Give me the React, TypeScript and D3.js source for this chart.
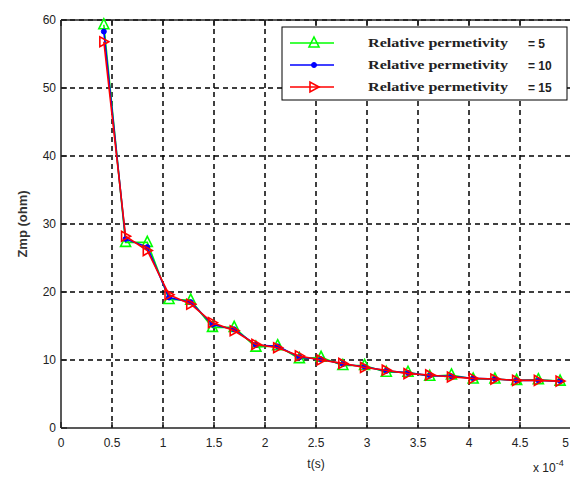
import React from "react";
import * as d3 from "d3";

const tValues = [0.42, 0.633, 0.846, 1.059, 1.272, 1.485, 1.698, 1.911, 2.124, 2.337, 2.55, 2.763, 2.976, 3.189, 3.402, 3.615, 3.828, 4.041, 4.254, 4.467, 4.68, 4.893];
const zmp5 = [59.3, 27.3, 27.3, 18.9, 18.8, 14.8, 14.8, 11.9, 12.1, 10.2, 10.4, 9.2, 9.2, 8.2, 8.2, 7.6, 7.8, 7.2, 7.2, 7.0, 7.1, 6.9];
const zmp10 = [58.3, 27.8, 26.6, 19.2, 18.5, 15.2, 14.5, 12.2, 12.0, 10.4, 10.1, 9.4, 9.0, 8.4, 8.1, 7.7, 7.6, 7.3, 7.2, 7.0, 7.0, 6.9];
const zmp15 = [56.8, 28.2, 26.1, 19.6, 18.2, 15.5, 14.3, 12.3, 11.8, 10.6, 10.0, 9.5, 8.9, 8.5, 8.0, 7.8, 7.5, 7.3, 7.2, 7.0, 7.0, 6.9];
const xTicks = [0, 0.5, 1, 1.5, 2, 2.5, 3, 3.5, 4, 4.5, 5];
const yTicks = [0, 10, 20, 30, 40, 50, 60];
const legendLabels = ["Relative  permetivity", "Relative permetivity", "Relative  permetivity"];
const legendValues = ["= 5", "= 10", "= 15"];

const W = 570, H = 478;
const L = 61, T = 20, B = 428, R = 571;

export default function App() {
  const x = d3.scaleLinear().domain([0, 5]).range([L, R]);
  const y = d3.scaleLinear().domain([0, 60]).range([B, T]);
  const line = d3.line<[number, number]>().x(d => x(d[0])).y(d => y(d[1]));
  const series = [
    { vals: zmp5, color: "#00ff00", marker: "up" },
    { vals: zmp10, color: "#0000ff", marker: "dot" },
    { vals: zmp15, color: "#ff0000", marker: "right" },
  ];
  const marker = (type: string, cx: number, cy: number, color: string, key: any) => {
    if (type === "up") {
      return <path key={key} d={`M${cx},${cy - 6}L${cx + 5},${cy + 4}L${cx - 5},${cy + 4}Z`} fill="none" stroke={color} strokeWidth={1.6} />;
    }
    if (type === "right") {
      return <path key={key} d={`M${cx + 5},${cy}L${cx - 4},${cy - 5}L${cx - 4},${cy + 5}Z`} fill="none" stroke={color} strokeWidth={1.6} />;
    }
    return <circle key={key} cx={cx} cy={cy} r={2.5} fill={color} stroke={color} />;
  };
  const font = "'Liberation Sans', Arial, sans-serif";
  return (
    <svg width={W} height={H} style={{ position: "absolute", left: 0, top: 0, background: "#fff" }}>
      <rect x={0} y={0} width={W} height={H} fill="#fff" />
      {/* grid */}
      {xTicks.filter(t => t > 0).map(t => (
        <line key={"gx" + t} x1={x(t)} x2={x(t)} y1={T} y2={B} stroke="#000" strokeWidth={1.5} strokeDasharray="5,4" />
      ))}
      {yTicks.filter(t => t > 0).map(t => (
        <line key={"gy" + t} x1={L} x2={R} y1={y(t)} y2={y(t)} stroke="#000" strokeWidth={1.5} strokeDasharray="5,4" />
      ))}
      {/* axes box */}
      <line x1={L} x2={R} y1={B} y2={B} stroke="#222" strokeWidth={1.5} />
      <line x1={L} x2={R} y1={T} y2={T} stroke="#222" strokeWidth={1.5} />
      <line x1={L} x2={L} y1={T} y2={B} stroke="#222" strokeWidth={1.5} />
      {xTicks.map((t, i) => (
        <g key={"xt" + t}>
          <line x1={x(t)} x2={x(t)} y1={B} y2={B - 6} stroke="#222" strokeWidth={1.5} />
          <line x1={x(t)} x2={x(t)} y1={T} y2={T + 6} stroke="#222" strokeWidth={1.5} />
          <text x={i === xTicks.length - 1 ? W - 1 : x(t)} y={447} textAnchor={i === xTicks.length - 1 ? "end" : "middle"} fontFamily={font} fontSize={12} fill="#222">{t}</text>
        </g>
      ))}
      {yTicks.map(t => (
        <g key={"yt" + t}>
          <line x1={L} x2={L + 6} y1={y(t)} y2={y(t)} stroke="#222" strokeWidth={1.5} />
          <text x={56} y={y(t) + 4} textAnchor="end" fontFamily={font} fontSize={12} fill="#222">{t}</text>
        </g>
      ))}
      <text x={316} y={468} textAnchor="middle" fontFamily={font} fontSize={12} fill="#222">t(s)</text>
      <text x={533} y={472} fontFamily={font} fontSize={12} fill="#222">x 10<tspan dy={-6} fontSize={9}>-4</tspan></text>
      <text transform={`translate(27,${(T + B) / 2}) rotate(-90)`} textAnchor="middle" fontFamily={font} fontSize={13} fontWeight="bold" fill="#333">Zmp (ohm)</text>
      {/* series */}
      {series.map((s, i) => (
        <g key={"s" + i}>
          <path d={line(tValues.map((t, j) => [t, s.vals[j]] as [number, number])) || ""} fill="none" stroke={s.color} strokeWidth={1.6} />
          {tValues.map((t, j) => marker(s.marker, x(t), y(s.vals[j]), s.color, j))}
        </g>
      ))}
      {/* legend */}
      <rect x={282} y={27} width={285} height={73} fill="#fff" stroke="#000" strokeWidth={1} />
      {series.map((s, i) => {
        const ly = 43 + i * 22;
        return (
          <g key={"lg" + i}>
            <line x1={290} x2={334} y1={ly} y2={ly} stroke={s.color} strokeWidth={1.6} />
            {marker(s.marker, 314, ly, s.color, "m")}
            <text x={368} y={ly + 4} fontFamily="'Liberation Serif', 'Times New Roman', serif" fontSize={13} fontWeight="bold" fill="#222" textLength={140} lengthAdjust="spacingAndGlyphs">{legendLabels[i]}</text>
            <text x={528} y={ly + 5} fontFamily={font} fontSize={12} fontWeight="bold" fill="#222">{legendValues[i]}</text>
          </g>
        );
      })}
    </svg>
  );
}
